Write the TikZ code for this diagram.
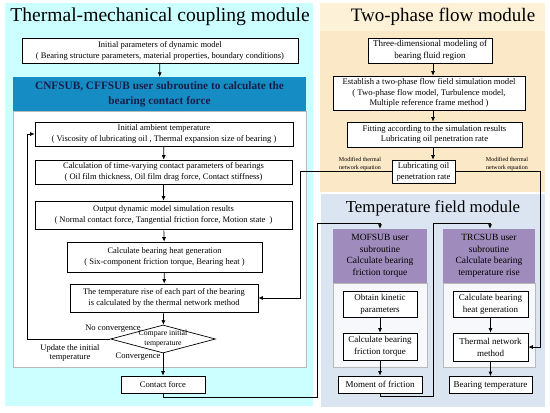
\documentclass[tikz,border=0pt]{standalone}
\usepackage{fontspec}
\setmainfont{Liberation Serif}
\usetikzlibrary{shapes.geometric,arrows.meta}
\definecolor{cyanbg}{RGB}{204,255,255}
\definecolor{blueh}{RGB}{22,140,196}
\definecolor{navy}{RGB}{22,30,72}
\definecolor{yelbg}{RGB}{251,232,199}
\definecolor{yeltop}{RGB}{253,242,216}
\definecolor{tempbg}{RGB}{219,229,242}
\definecolor{purp}{RGB}{160,140,188}
\definecolor{pangray}{RGB}{185,185,185}
\definecolor{panfill}{RGB}{246,248,252}
\begin{document}
\begin{tikzpicture}[x=1pt,y=-1pt,
  box/.style={draw=black, line width=0.7pt, fill=white, align=center, inner sep=0pt},
  lbox/.style={box, font=\fontsize{8.5}{11}\selectfont},
  rbox/.style={box, font=\fontsize{8.6}{10.8}\selectfont},
  tbox/.style={box, font=\fontsize{9}{12}\selectfont},
  modtitle/.style={font=\fontsize{19.6}{24}\selectfont, inner sep=0pt},
  arr/.style={-{Latex[length=4.5pt,width=4pt]}, line width=0.7pt},
  ln/.style={line width=0.7pt},
  smalllbl/.style={font=\fontsize{6}{7.5}\selectfont, align=center, inner sep=0.5pt},
  lbl/.style={font=\fontsize{8.5}{9.5}\selectfont, align=center, inner sep=0pt},
  purphead/.style={fill=purp, align=center, inner sep=0pt, font=\fontsize{9.5}{11.7}\selectfont, minimum width=94pt, minimum height=54pt}
]
\useasboundingbox (0,0) rectangle (550,413);
% backgrounds
\fill[cyanbg] (5,3) rectangle (313,406);
\fill[yelbg] (320,3) rectangle (545,192);
\fill[yeltop] (320,3) rectangle (545,31);
\fill[tempbg] (321,194) rectangle (545,407);
\draw[pangray, fill=white, line width=0.6pt] (13,111) rectangle (306,367);
\draw[pangray, fill=panfill, line width=0.6pt] (333,283) rectangle (427,367);
\draw[pangray, fill=panfill, line width=0.6pt] (443,283) rectangle (535,367);

% titles
\node[modtitle] (tmtitle) at (160,17) {Thermal-mechanical coupling module};
\node[modtitle, font=\fontsize{19}{23}\selectfont] (tptitle) at (443,17) {Two-phase flow module};
\node[modtitle, font=\fontsize{16.8}{20}\selectfont] (tftitle) at (433,208) {Temperature field module};

% left module
\node[lbox, minimum width=276pt, minimum height=25pt] (init) at (160,50.5) {Initial parameters of dynamic model\\( Bearing structure parameters, material properties, boundary conditions)};
\node[fill=blueh, text=navy, align=center, inner sep=0pt, minimum width=293pt, minimum height=34pt, font=\bfseries\fontsize{11.3}{15}\selectfont] (cnf) at (159.5,94) {CNFSUB, CFFSUB user subroutine to calculate the\\bearing contact force};
\node[lbox, minimum width=258pt, minimum height=24pt] (amb) at (164,134) {Initial ambient temperature\\( Viscosity of lubricating oil , Thermal expansion size of bearing )};
\node[lbox, minimum width=257pt, minimum height=24pt] (calc) at (163.5,172) {Calculation of time-varying contact parameters of bearings\\( Oil film thickness, Oil film drag force, Contact stiffness)};
\node[lbox, minimum width=257pt, minimum height=28pt] (out) at (163.5,215) {Output dynamic model simulation results\\( Normal contact force, Tangential friction force, Motion state~~)};
\node[lbox, minimum width=195pt, minimum height=30pt] (heat) at (164.5,257) {Calculate bearing heat generation\\( Six-component friction torque, Bearing heat )};
\node[lbox, minimum width=188pt, minimum height=28pt] (trise) at (164,298) {The temperature rise of each part of the bearing\\is calculated by the thermal network method};
\node[draw=black, line width=0.7pt, fill=white, shape=diamond, aspect=3.75, inner sep=-1.5pt, align=center, font=\fontsize{7.8}{10}\selectfont, minimum width=105pt, minimum height=28pt] (cmp) at (163,339) {Compare initial\\temperature};
\node[lbox, minimum width=84pt, minimum height=17pt] (contact) at (163,384.5) {Contact force};

\node[lbl, anchor=south] (nocon) at (113,333) {No convergence};
\node[lbl] (upd) at (70,353) {Update the initial\\temperature};
\node[lbl] (conv) at (138,357) {Convergence};

\draw[arr] (init) -- (cnf);
\draw[arr] (amb) -- (calc);
\draw[arr] (calc) -- (out);
\draw[arr] (out) -- (heat);
\draw[arr] (heat) -- (trise);
\draw[arr] (trise) -- (cmp);
\draw[arr] (cmp) -- (contact);
\coordinate (loopA) at (27,339);
\coordinate (loopB) at (27,134);
\draw[arr] (cmp.west) -- (loopA) -- (loopB) -- (amb.west);

% two-phase module
\node[tbox, minimum width=124pt, minimum height=25pt] (three) at (430,50.5) {Three-dimensional modeling of\\bearing fluid region};
\node[rbox, minimum width=192pt, minimum height=34pt] (est) at (429,93) {Establish a two-phase flow field simulation model\\( Two-phase flow model, Turbulence model,\\Multiple reference frame method )};
\node[rbox, minimum width=175pt, minimum height=25pt] (fit) at (434.5,134.5) {Fitting according to the simulation results\\Lubricating oil penetration rate};
\node[tbox, font=\fontsize{8.6}{11}\selectfont, minimum width=63pt, minimum height=23pt] (lub) at (423.5,171.5) {Lubricating oil\\penetration rate};
\draw[arr] (three.south -| 433,0) -- (est.north -| 433,0);
\draw[arr] (est.south -| 433,0) -- (fit.north -| 433,0);
\draw[arr] (fit.south -| 433,0) -- (lub.north -| 433,0);

\node[smalllbl, anchor=south] (modl) at (360,171) {Modified thermal\\network equation};
\node[smalllbl, anchor=south] (modr) at (507,171) {Modified thermal\\network equation};

% temperature field module
\node[purphead] (mof) at (380,256) {MOFSUB user\\subroutine\\Calculate bearing\\friction torque};
\node[purphead, minimum width=92pt] (trc) at (489,256) {TRCSUB user\\subroutine\\Calculate bearing\\temperature rise};
\node[tbox, minimum width=74pt, minimum height=26pt] (obt) at (380,304) {Obtain kinetic\\parameters};
\node[tbox, minimum width=74pt, minimum height=27pt] (cbft) at (380,346.5) {Calculate bearing\\friction torque};
\node[tbox, minimum width=84pt, minimum height=17pt] (mom) at (380,384.5) {Moment of friction};
\node[tbox, minimum width=75pt, minimum height=26pt] (chg) at (490.5,304) {Calculate bearing\\heat generation};
\node[tbox, minimum width=75pt, minimum height=28pt] (tnm) at (490.5,347) {Thermal network\\method};
\node[tbox, minimum width=83pt, minimum height=17pt] (btemp) at (490.5,385) {Bearing temperature};

\draw[arr] (obt) -- (cbft);
\draw[arr] (cbft) -- (mom);
\draw[arr] (chg) -- (tnm);
\draw[arr] (tnm) -- (btemp);

% cross-module connectors
\coordinate (c1) at (163,397.5);
\coordinate (c2) at (317,397.5);
\coordinate (c3) at (317,223.5);
\coordinate (c4) at (380,223.5);
\draw[arr] (contact.south) -- (c1) -- (c2) -- (c3) -- (c4) -- (mof.north);
\coordinate (m1) at (380,396.5);
\coordinate (m2) at (433,396.5);
\coordinate (m3) at (433,223);
\coordinate (m4) at (490,223);
\draw[arr] (mom.south) -- (m1) -- (m2) -- (m3) -- (m4) -- (trc.north -| m4);
\coordinate (l1) at (300,171);
\coordinate (l2) at (300,298);
\draw[arr] (lub.west |- l1) -- (l1) -- (l2) -- (trise.east);
\coordinate (r1) at (540,171);
\coordinate (r2) at (540,347);
\draw[arr] (lub.east |- r1) -- (r1) -- (r2) -- (tnm.east);
\end{tikzpicture}
\end{document}
